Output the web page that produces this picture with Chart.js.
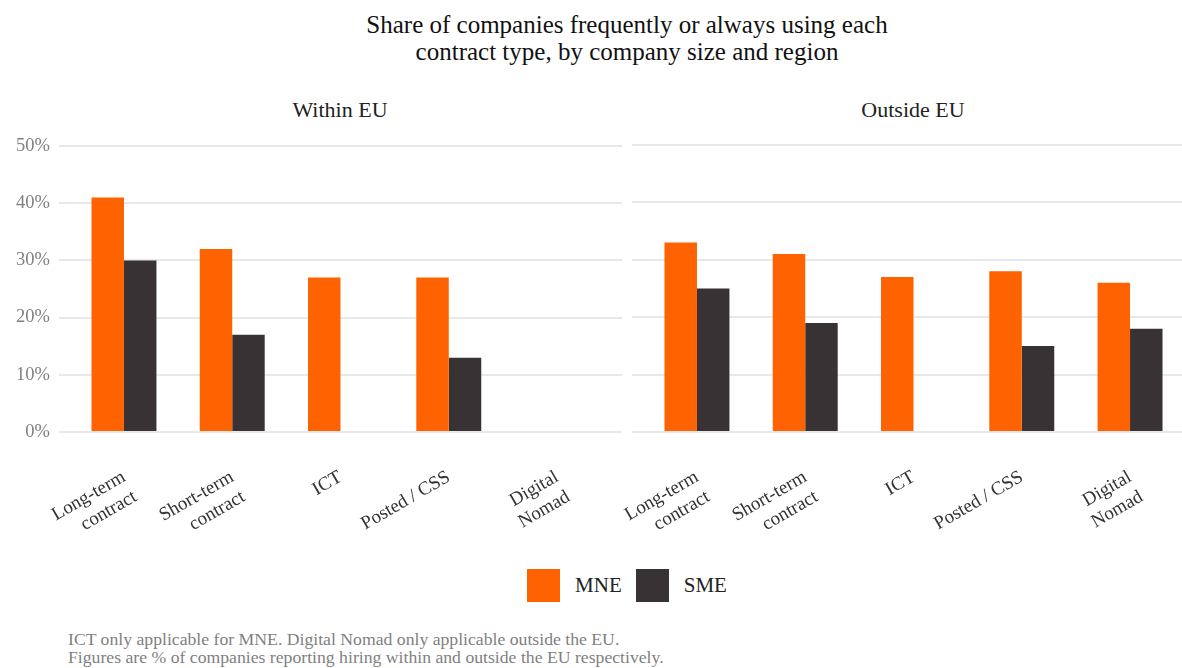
<!DOCTYPE html>
<html>
<head>
<meta charset="utf-8">
<script src="https://cdn.jsdelivr.net/npm/chart.js@4"></script>
<style>
  body { margin: 0; width: 1182px; height: 668px; overflow: hidden; background: #fff; position: relative; font-family: "Liberation Serif", serif; }
  .abs { position: absolute; }
  #title { left: 0; width: 1254px; top: 11px; text-align: center; font-size: 25px; line-height: 27px; color: #111; }
  .facet { top: 97px; width: 300px; text-align: center; font-size: 22px; color: #222; }
  #f1 { left: 190px; }
  #f2 { left: 763px; }
  #wrap1 { left: 0; top: 126px; width: 622px; height: 426px; }
  #wrap2 { left: 572px; top: 130px; width: 623px; height: 422px; }
  #legend { left: 0; width: 1254px; top: 569px; display: flex; justify-content: center; align-items: center; font-size: 21px; color: #222; }
  .key { width: 33px; height: 33px; margin-right: 15px; }
  .lab { margin-right: 14px; }
  #caption { left: 68px; top: 630px; font-size: 17.7px; line-height: 18px; color: #7f7f7f; }
</style>
</head>
<body>
<div id="title" class="abs">Share of companies frequently or always using each<br>contract type, by company size and region</div>
<div id="f1" class="abs facet">Within EU</div>
<div id="f2" class="abs facet">Outside EU</div>
<div id="wrap1" class="abs"><canvas id="c1"></canvas></div>
<div id="wrap2" class="abs"><canvas id="c2"></canvas></div>
<div id="legend" class="abs">
  <div class="key" style="background:#ff6200"></div><span class="lab">MNE</span>
  <div class="key" style="background:#393234"></div><span>SME</span>
</div>
<div id="caption" class="abs">ICT only applicable for MNE. Digital Nomad only applicable outside the EU.<br>Figures are % of companies reporting hiring within and outside the EU respectively.</div>

<script>
const categories = [['Long-term', 'contract'], ['Short-term', 'contract'], 'ICT', 'Posted / CSS', ['Digital', 'Nomad']];
const withinMNE = [41, 32, 27, 27, null];
const withinSME = [30, 17, null, 13, null];
const outsideMNE = [33, 31, 27, 28, 26];
const outsideSME = [25, 19, null, 15, 18];
const yTicks = [0, 10, 20, 30, 40, 50];

const ORANGE = '#ff6200';
const DARK = '#393234';
const X_MIN = 0.4;
const X_MAX = categories.length + 0.6;

function toPoints(values) {
  return values.map((v, i) => ({ x: i + 1, y: v }));
}

// showY: left panel carries the % labels; the right one only its grid
function makePanel(id, mne, sme, showY) {
  new Chart(document.getElementById(id), {
    type: 'bar',
    data: {
      datasets: [
        { label: 'MNE', data: toPoints(mne), backgroundColor: ORANGE },
        { label: 'SME', data: toPoints(sme), backgroundColor: DARK }
      ]
    },
    options: {
      responsive: true,
      maintainAspectRatio: false,
      animation: false,
      layout: { padding: { top: 15, left: showY ? 0 : 60, right: 0, bottom: 0 } },
      categoryPercentage: 0.6,
      barPercentage: 1.0,
      plugins: { legend: { display: false }, tooltip: { enabled: false } },
      scales: {
        x: {
          type: 'linear',
          offset: false,
          bounds: 'data',
          min: X_MIN,
          max: X_MAX,
          afterBuildTicks: s => {
            s.ticks = categories.map((c, i) => ({ value: i + 1 }));
            s.min = X_MIN;
            s.max = X_MAX;
          },
          afterFit: s => {
            s.height = 120;
            s.paddingLeft = 0;
            s.paddingRight = 0;
          },
          grid: { display: false },
          border: { display: false },
          ticks: {
            autoSkip: false,
            maxRotation: 30,
            minRotation: 30,
            padding: 26,
            color: '#333',
            font: { family: 'Liberation Serif', size: 19 },
            callback: v => categories[v - 1]
          }
        },
        y: {
          min: 0,
          max: 50,
          afterBuildTicks: s => { s.ticks = yTicks.map(v => ({ value: v })); },
          afterFit: s => { s.width = showY ? 59 : 0; },
          border: { display: false },
          grid: { color: '#e8e8e8', lineWidth: 2, drawTicks: false },
          ticks: {
            display: showY,
            padding: 9,
            color: '#808080',
            font: { family: 'Liberation Serif', size: 18.5 },
            callback: v => v + '%'
          }
        }
      }
    }
  });
}

makePanel('c1', withinMNE, withinSME, true);
makePanel('c2', outsideMNE, outsideSME, false);
</script>
</body>
</html>
